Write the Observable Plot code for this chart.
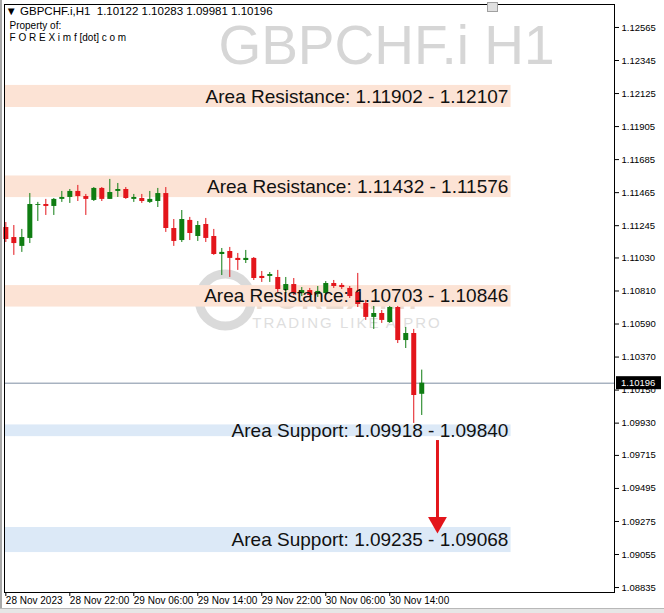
<!DOCTYPE html>
<html><head><meta charset="utf-8">
<script src="https://cdn.jsdelivr.net/npm/d3@7"></script>
<script src="https://cdn.jsdelivr.net/npm/@observablehq/plot@0.6"></script>
<style>
html,body{margin:0;padding:0;background:#fff;}
#chart{position:relative;width:664px;height:613px;overflow:hidden;}
#chart svg{display:block;}
.edgeL{position:absolute;left:0;top:0;width:2px;height:613px;background:#a8a8a8;}
.edgeB{position:absolute;left:0;top:608px;width:664px;height:5px;background:#e6e6e6;border-top:1px solid #b8b8b8;}
</style></head><body><div id="chart"></div>
<script>
// ---- header texts ----
const headerLine = "\u25BC GBPCHF.i,H1  1.10122 1.10283 1.09981 1.10196";
const ownerLine1 = "Property of:";
const ownerLine2 = "F O R E X i m f [dot] c o m";
const watermarkTitle = "GBPCHF.i H1";

// ---- hourly candles, first bar 28 Nov 2023 14:00 ----
const firstBar = "2023-11-28T14:00:00Z";
const opens  = [1.11233,1.11166,1.11107,1.11160,1.11380,1.11386,1.11373,1.11420,1.11433,1.11473,1.11439,1.11413,1.11493,1.11420,1.11473,1.11486,1.11420,1.11426,1.11400,1.11406,1.11459,1.11226,1.11146,1.11280,1.11173,1.11253,1.11173,1.11053,1.11073,1.11027,1.11013,1.11027,1.10907,1.10907,1.10900,1.10813,1.10853,1.10793,1.10813,1.10787,1.10793,1.10860,1.10847,1.10827,1.10800,1.10727,1.10634,1.10660,1.10600,1.10700,1.10480,1.10527,1.10122];
const highs  = [1.11266,1.11246,1.11220,1.11459,1.11400,1.11420,1.11426,1.11473,1.11486,1.11513,1.11453,1.11499,1.11499,1.11553,1.11526,1.11499,1.11453,1.11453,1.11473,1.11493,1.11499,1.11286,1.11346,1.11300,1.11273,1.11293,1.11220,1.11093,1.11100,1.11060,1.11080,1.11033,1.10940,1.10933,1.10947,1.10900,1.10893,1.10833,1.10827,1.10840,1.10873,1.10880,1.10860,1.10840,1.10927,1.10747,1.10707,1.10680,1.10707,1.10707,1.10567,1.10554,1.10283];
const lows   = [1.11133,1.11047,1.11067,1.11126,1.11273,1.11313,1.11313,1.11400,1.11393,1.11406,1.11313,1.11406,1.11406,1.11420,1.11433,1.11420,1.11400,1.11393,1.11393,1.11366,1.11200,1.11107,1.11133,1.11146,1.11140,1.11133,1.11047,1.10913,1.10900,1.10947,1.10993,1.10880,1.10867,1.10867,1.10800,1.10793,1.10780,1.10773,1.10767,1.10767,1.10780,1.10827,1.10820,1.10760,1.10700,1.10614,1.10554,1.10594,1.10594,1.10460,1.10427,1.09928,1.09981];
const closes = [1.11153,1.11126,1.11166,1.11386,1.11386,1.11373,1.11420,1.11433,1.11473,1.11439,1.11420,1.11493,1.11420,1.11466,1.11486,1.11426,1.11433,1.11406,1.11420,1.11459,1.11226,1.11140,1.11286,1.11193,1.11246,1.11160,1.11053,1.11067,1.11027,1.11013,1.11027,1.10893,1.10893,1.10920,1.10820,1.10853,1.10793,1.10813,1.10780,1.10807,1.10860,1.10840,1.10833,1.10773,1.10720,1.10634,1.10660,1.10614,1.10700,1.10480,1.10527,1.10114,1.10196];

// ---- zones ----
const zoneLabels = ["Area Resistance: 1.11902 - 1.12107","Area Resistance: 1.11432 - 1.11576","Area Resistance: 1.10703 - 1.10846","Area Support: 1.09918 - 1.09840","Area Support: 1.09235 - 1.09068"];
const zoneKinds  = ["resistance","resistance","resistance","support","support"];
const zoneTops   = [1.12179,1.11576,1.10846,1.09918,1.09235];
const zoneBottoms= [1.12032,1.11432,1.10703,1.09840,1.09068];
const zoneStart = "2023-11-28T13:50:00Z";
const zoneEnd   = "2023-12-01T05:10:00Z";
const zoneLabelEnd = "2023-12-01T04:50:00Z";

// ---- projected move arrow ----
const arrowTime = "2023-11-30T19:58:00Z";
const arrowFrom = 1.09814;
const arrowTo   = 1.09268;

// ---- axes ----
const xDomain = ["2023-11-28T13:50:00Z","2023-12-01T18:06:00Z"];
const yDomain = [1.08802, 1.12718];
const yTicks = [1.12565,1.12345,1.12125,1.11905,1.11685,1.11465,1.11245,1.11030,1.10810,1.10590,1.10370,1.10150,1.09930,1.09715,1.09495,1.09275,1.09055,1.08835];
const xTickTimes  = ["2023-11-28T14:00:00Z","2023-11-28T22:00:00Z","2023-11-29T06:00:00Z","2023-11-29T14:00:00Z","2023-11-29T22:00:00Z","2023-11-30T06:00:00Z","2023-11-30T14:00:00Z"];
const xTickLabels = ["28 Nov 2023","28 Nov 22:00","29 Nov 06:00","29 Nov 14:00","29 Nov 22:00","30 Nov 06:00","30 Nov 14:00"];

// ---- build tables ----
const t0 = new Date(firstBar).getTime();
const candles = opens.map((o,i)=>({
  time: new Date(t0 + i*3600e3), open:o, high:highs[i], low:lows[i], close:closes[i],
  up: closes[i] >= o
}));
const zones = zoneLabels.map((label,i)=>({
  label, kind: zoneKinds[i], top: zoneTops[i], bottom: zoneBottoms[i],
  start: new Date(zoneStart), end: new Date(zoneEnd), labelAt: new Date(zoneLabelEnd),
  mid: (zoneTops[i]+zoneBottoms[i])/2
}));
const tickMap = new Map(xTickTimes.map((t,i)=>[new Date(t).getTime(), xTickLabels[i]]));
const last = candles[candles.length-1];

const UP = "#0f7d12", DOWN = "#e3151b";
const font = "'Liberation Sans', Arial, sans-serif";

const plot = Plot.plot({
  width: 664, height: 613,
  marginLeft: 4, marginRight: 50, marginTop: 4, marginBottom: 21,
  x: {type: "utc", domain: xDomain.map(d=>new Date(d))},
  y: {domain: yDomain},
  style: {fontFamily: font, background: "#fff", color: "#000"},
  marks: [
    Plot.text([watermarkTitle], {frameAnchor: "top", dx: 77, dy: 20, lineAnchor: "top", text: d=>d, fontSize: 55, fill: "#d6d6d6", fontFamily: font}),
    Plot.rect(zones, {x1: "start", x2: "end", y1: "bottom", y2: "top",
      fill: d => d.kind === "resistance" ? "#fce3d5" : "#dce9f7"}),
    Plot.ruleY([last.close], {stroke: "#7d8ea2", strokeWidth: 1}),
    Plot.ruleX(candles, {x: "time", y1: "low", y2: "high", stroke: d => d.up ? UP : DOWN, strokeWidth: 1}),
    Plot.ruleX(candles, {x: "time", y1: "open", y2: "close", stroke: d => d.up ? UP : DOWN, strokeWidth: 5}),
    Plot.text(zones, {x: "labelAt", y: "mid", text: "label", textAnchor: "end", fontSize: 19, fill: "#111", fontFamily: font}),
    Plot.ruleX([arrowTime], {x: d=>new Date(d), y1: arrowFrom, y2: arrowTo, stroke: "#e3151b", strokeWidth: 3}),
    Plot.dot([arrowTime], {x: d=>new Date(d), y: arrowTo, symbol: "triangle", r: 7, rotate: 180, fill: "#e3151b", stroke: "none"}),
    Plot.text([headerLine], {frameAnchor: "top-left", dx: 1, dy: 2, text: d=>d, fontSize: 11.5, fill: "#000", lineAnchor: "top"}),
    Plot.text([ownerLine1], {frameAnchor: "top-left", dx: 5, dy: 17, text: d=>d, fontSize: 10, fill: "#000", lineAnchor: "top"}),
    Plot.text([ownerLine2], {frameAnchor: "top-left", dx: 5, dy: 29, text: d=>d, fontSize: 10, fill: "#000", lineAnchor: "top"}),
    Plot.frame({stroke: "#000", strokeWidth: 1}),
    Plot.axisY({anchor: "right", ticks: yTicks, tickFormat: d => d.toFixed(5), tickSize: 4, tickPadding: 3, fontSize: 9.5, label: null}),
    Plot.axisX({ticks: xTickTimes.map(d=>new Date(d)), tickFormat: d => tickMap.get(+d), textAnchor: "start", dx: 0, tickSize: 4, tickPadding: 0, fontSize: 10, label: null})
  ]
});
document.getElementById("chart").appendChild(plot);

// decorative watermark logo and current price tag, positioned via Plot's scales
const svg = d3.select(plot);
const xs = plot.scale("x"), ys = plot.scale("y");
const wmX = xs.apply(new Date("2023-11-29T17:30:00Z"));
const wmY = ys.apply(1.10800);
const g = svg.insert("g", "g").attr("opacity", 0.32).attr("text-anchor", "start");
g.append("circle").attr("cx", wmX).attr("cy", wmY + 8).attr("r", 26).attr("fill","none").attr("stroke","#8e8e8e").attr("stroke-width", 9);
g.append("text").attr("x", wmX + 30).attr("y", wmY + 17).attr("font-family", font).attr("font-size", 30).attr("font-weight", "bold").attr("fill", "#c09070").attr("letter-spacing", 2).text("FOREXimf");
g.append("text").attr("x", wmX + 27).attr("y", wmY + 36).attr("font-family", font).attr("font-size", 15).attr("fill", "#9a9a9a").attr("letter-spacing", 2).text("TRADING LIKE A PRO");
const py = ys.apply(last.close);
const tag = svg.append("g").attr("text-anchor", "start");
tag.append("rect").attr("x", 616).attr("y", py - 6.5).attr("width", 45).attr("height", 13).attr("fill", "#000");
tag.append("text").attr("x", 621).attr("y", py).attr("dy", "0.35em").attr("font-family", font).attr("font-size", 9.5).attr("fill", "#fff").text(last.close.toFixed(5));
// small window control icon near top right
svg.append("rect").attr("x", 487.5).attr("y", 2.5).attr("width", 10).attr("height", 9).attr("fill", "#e0e0e0").attr("stroke", "#a0a0a0");

const l = document.createElement("div"); l.className = "edgeL"; document.getElementById("chart").appendChild(l);
const b = document.createElement("div"); b.className = "edgeB"; document.getElementById("chart").appendChild(b);
</script></body></html>
